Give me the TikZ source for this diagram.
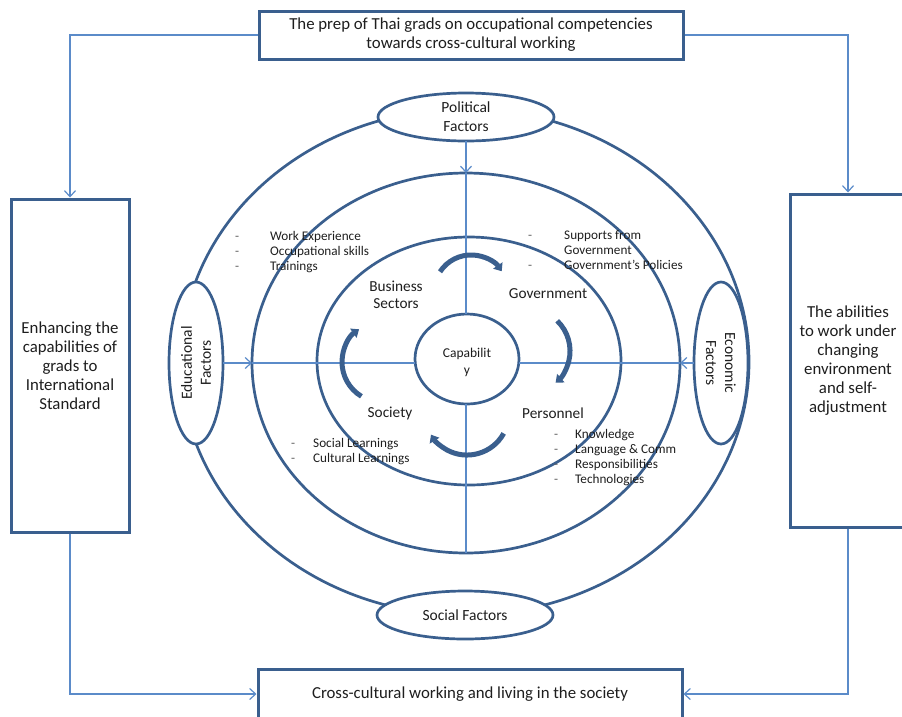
\documentclass[tikz,border=0pt]{standalone}
\usepackage{fontspec}
\setmainfont{Carlito}
\usetikzlibrary{shapes.geometric,arrows.meta}
\definecolor{dkblue}{HTML}{3A5F8E}
\definecolor{ltblue}{HTML}{5B8BC9}
\definecolor{txt}{HTML}{1E1E1E}
\definecolor{dashc}{HTML}{606060}
\newcommand{\dd}[1]{\makebox[#1][l]{\textcolor{dashc}{-}}}
\begin{document}
\begin{tikzpicture}[x=1pt,y=-1pt,
  ring/.style={draw=dkblue, line width=2.7pt, ellipse, inner sep=0pt, outer sep=0pt},
  factor/.style={ring, fill=white},
  ftext/.style={font=\fontsize{15.5}{19}\selectfont, align=center, text=txt, inner sep=0pt},
  bigbox/.style={draw=dkblue, line width=3pt, fill=white, inner sep=0pt, align=center,
    font=\fontsize{16.8}{19}\selectfont, text=txt},
  conn/.style={draw=ltblue, line width=1.2pt},
  tipv/.style={-{Straight Barb[length=6pt,width=11pt]}},
  cyc/.style={draw=dkblue, line width=5pt, -{Triangle[length=7pt,width=11pt]}},
  lab/.style={font=\fontsize{15.3}{17}\selectfont, align=center, text=txt, inner sep=0pt},
  lst/.style={font=\fontsize{13.2}{15}\selectfont, align=left, text=txt, inner sep=0pt, anchor=west}
]
\useasboundingbox (0,0) rectangle (902,716);

% rings
\node[ring, minimum width=568, minimum height=506] (outer) at (465,362) {};
\node[ring, minimum width=428, minimum height=380] (mid) at (466,363) {};
\node[ring, minimum width=304, minimum height=248] (inner) at (469,361) {};

% factor ellipses
\node[factor, minimum width=176, minimum height=48] (pol) at (466,117) {};
\node[factor, minimum width=176, minimum height=48] (soc) at (465,615) {};
\node[factor, minimum width=54, minimum height=162] (edu) at (196,363) {};
\node[factor, minimum width=54, minimum height=162] (eco) at (721,363) {};

% capability circle
\node[ring, fill=white, minimum width=104, minimum height=90] (cap) at (467,359) {};

% cross lines
\draw[conn, tipv] (pol.south) -- (pol.south |- mid.north);
\draw[conn] (pol.south |- mid.north) -- (pol.south |- cap.north);
\draw[conn] (pol.south |- cap.south) -- (pol.south |- mid.south);
\draw[conn, tipv] (edu.east) -- (mid.west);
\draw[conn] (mid.west) -- (cap.west |- mid.west);
\draw[conn] (cap.east |- mid.east) -- (mid.east);
\draw[conn, tipv] (eco.west) -- (mid.east);

% factor texts
\node[ftext] (poltxt) at (pol) {Political\\Factors};
\node[ftext] (soctxt) at (soc) {Social Factors};
\node[ftext, rotate=90] (edutxt) at (edu) {Educational\\Factors};
\node[ftext, rotate=-90] (ecotxt) at (eco) {Economic\\Factors};

% cycle arrows
\draw[cyc] (440,271.8) arc[start angle=-147, end angle=-34, radius=37];
\draw[cyc] (557.2,320.8) arc[start angle=-46, end angle=49, radius=42];
\draw[cyc] (503.7,433.4) arc[start angle=29, end angle=149, radius=42];
\draw[cyc] (361.4,396.3) arc[start angle=121, end angle=235, radius=40];

% inner labels
\node[font=\fontsize{13.5}{17}\selectfont, align=center, text=txt, inner sep=0pt] (captxt) at (467,362) {Capabilit\\y};
\node[lab] (bus) at (396,294.5) {Business\\Sectors};
\node[lab] (gov) at (548,294) {Government};
\node[lab] (socy) at (390,413) {Society};
\node[lab] (pers) at (553,413) {Personnel};

% lists
\node[lst] (l1) at (235,252) {\dd{35pt}Work Experience\\\dd{35pt}Occupational skills\\\dd{35pt}Trainings};
\node[lst] (l2) at (528,250) {\dd{36pt}Supports from\\\hspace*{36pt}Government\\\dd{36pt}Government’s Policies};
\node[lst] (l3) at (291,452) {\dd{22pt}Social Learnings\\\dd{22pt}Cultural Learnings};
\node[lst] (l4) at (554,457.5) {\dd{21pt}Knowledge\\\dd{21pt}Language \& Comm\\\dd{21pt}Responsibilities\\\dd{21pt}Technologies};

% boxes
\node[bigbox, minimum width=424, minimum height=48] (top) at (471,35) {The prep of Thai grads on occupational competencies\\towards cross-cultural working};
\node[bigbox, minimum width=118, minimum height=333] (left) at (70,365.5) {Enhancing the\\capabilities of\\grads to\\International\\Standard};
\node[bigbox, minimum width=116, minimum height=333] (right) at (848,360.5) {The abilities\\to work under\\changing\\environment\\and self-\\adjustment};
\node[bigbox, minimum width=424, minimum height=50] (bot) at (470,694) {Cross-cultural working and living in the society};

% outer connectors
\draw[conn, tipv] (top.west) -| (left.north);
\draw[conn, tipv] (top.east) -| (right.north);
\draw[conn, tipv] (left.south) |- (bot.west);
\draw[conn, tipv] (right.south) |- (bot.east);
\end{tikzpicture}
\end{document}
